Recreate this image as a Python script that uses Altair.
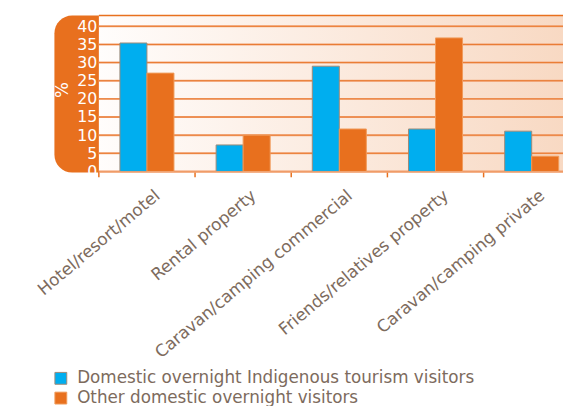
import altair as alt
import pandas as pd

categories = ["Hotel/resort/motel", "Rental property", "Caravan/camping commercial",
              "Friends/relatives property", "Caravan/camping private"]
series = ["Domestic overnight Indigenous tourism visitors", "Other domestic overnight visitors"]
indigenous = [35.4, 7.3, 29.0, 11.7, 11.1]
other = [27.1, 10.0, 11.7, 36.8, 4.2]
y_ticks = [0, 5, 10, 15, 20, 25, 30, 35, 40]

BLUE = "#00aeef"
ORANGE = "#e8701e"
TEXT = "#7d6b5d"
W, H = 470, 158

rows = []
for c, a, b in zip(categories, indigenous, other):
    rows.append({"cat": c, "series": series[0], "value": a})
    rows.append({"cat": c, "series": series[1], "value": b})
df = pd.DataFrame(rows)
one = pd.DataFrame({"k": [0]})
grid_df = pd.DataFrame({"v": y_ticks})
cat_df = pd.DataFrame({"cat": categories})

yscale = alt.Scale(domain=[0, 43], nice=False)
xscale = alt.Scale(range=[0, 487], paddingInner=0, paddingOuter=0)

yaxis = alt.Axis(values=y_ticks, grid=False, domain=False, ticks=False,
                 labelOverlap=False, labelFlush=False, labelBound=False,
                 labelColor="white", labelFontSize=16, labelFont="DejaVu Sans",
                 labelPadding=2, title="%", titleColor="white", titleFontSize=17,
                 titleFont="DejaVu Sans", titleFontWeight="normal",
                 titleX=-37, titleY=75, titleAngle=270, titleAlign="center",
                 titleBaseline="middle", zindex=1)

grad = alt.Gradient(
    gradient="linear",
    stops=[alt.GradientStop(color="#fffdfc", offset=0),
           alt.GradientStop(color="#f8d9c3", offset=1)],
    x1=0, x2=1, y1=0, y2=0,
)

bg = alt.Chart(one).mark_rect(fill=grad).encode(
    x=alt.value(0), x2=alt.value(W), y=alt.value(0), y2=alt.value(H)
)

side = alt.Chart(one).mark_rect(
    color=ORANGE, cornerRadiusTopLeft=18, cornerRadiusBottomLeft=18
).encode(x=alt.value(-45), x2=alt.value(0), y=alt.value(0), y2=alt.value(H + 1))

grid_light = alt.Chart(grid_df).mark_rule(color="#f3a67a", strokeWidth=2).encode(
    y=alt.Y("v:Q", scale=yscale, axis=yaxis, title="%"),
    x=alt.value(0), x2=alt.value(W),
)
grid = alt.Chart(grid_df).mark_rule(color="#e97a30", strokeWidth=1).encode(
    y=alt.Y("v:Q", scale=yscale, axis=yaxis, title="%"),
    x=alt.value(0), x2=alt.value(W),
)

toprule = alt.Chart(one).mark_rule(color=ORANGE, strokeWidth=1.5).encode(
    y=alt.value(0), x=alt.value(0), x2=alt.value(W)
)

bars = alt.Chart(df).mark_bar(strokeWidth=1).encode(
    x=alt.X("cat:N", sort=categories, scale=xscale,
            axis=alt.Axis(title=None, labelAngle=320, labelColor=TEXT, labelFontSize=17,
                          labelFont="DejaVu Sans", labelAlign="right", labelBaseline="middle",
                          labelOffset=11, labelPadding=22, ticks=False,
                          domainColor="#f2a77a", domainWidth=1.5, labelLimit=400, zindex=1)),
    xOffset=alt.XOffset("series:N", sort=series,
                        scale=alt.Scale(paddingOuter=0.78, paddingInner=0)),
    y=alt.Y("value:Q", scale=yscale, axis=yaxis, title="%"),
    color=alt.Color("series:N", sort=series,
                    scale=alt.Scale(domain=series, range=[BLUE, ORANGE]),
                    legend=alt.Legend(title=None, orient="none", legendX=-47, legendY=359,
                                      symbolType="square", symbolSize=144,
                                      symbolStrokeColor="#f09a5a", symbolStrokeWidth=1,
                                      labelColor=TEXT, labelFontSize=17, labelFont="DejaVu Sans",
                                      labelOffset=8, rowPadding=2, labelLimit=500)),
    stroke=alt.Stroke("series:N", sort=series,
                      scale=alt.Scale(domain=series, range=["#a08a78", "#f09a5a"]),
                      legend=None),
)

ticks = alt.Chart(cat_df).mark_rule(color=ORANGE, strokeWidth=1.5).encode(
    x=alt.X("cat:N", sort=categories, bandPosition=0, scale=xscale),
    y=alt.value(H), y2=alt.value(H + 6),
)

chart = alt.layer(bg, side, grid_light, grid, toprule, bars, ticks).properties(
    width=W, height=H,
    autosize=alt.AutoSizeParams(type="none"),
    padding={"left": 92, "top": 5, "right": 0, "bottom": 235},
).configure_view(stroke=None)

chart.save("out.html", embed_options={"renderer": "svg", "actions": False})
